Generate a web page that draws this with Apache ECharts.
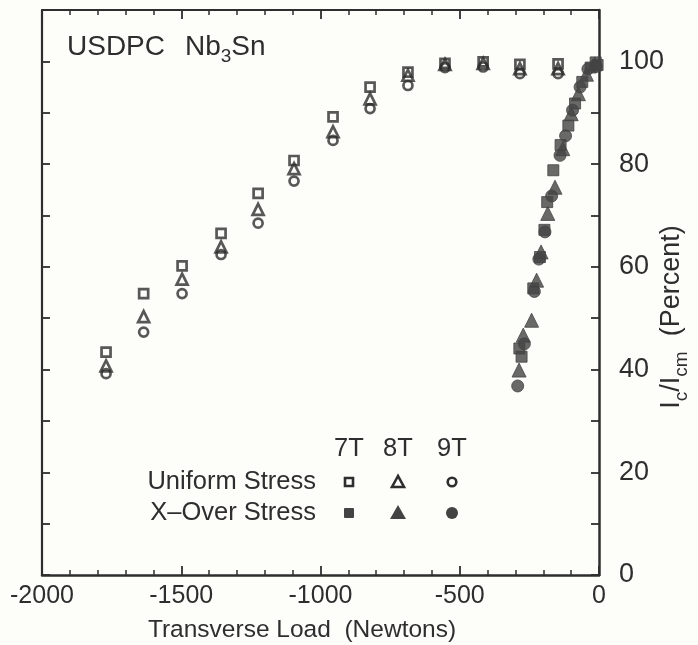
<!DOCTYPE html>
<html>
<head>
<meta charset="utf-8">
<script src="https://cdn.jsdelivr.net/npm/echarts@6/dist/echarts.min.js"></script>
<style>
html,body{margin:0;padding:0;background:#fdfdfa;overflow:hidden;}
#chart{width:698px;height:645px;}
</style>
</head>
<body>
<div id="chart"></div>
<script>
// ---- data ----
const xTicks = [-2000, -1500, -1000, -500, 0];
const yTickLabels = [0, 20, 40, 60, 80, 100];

const uniformLoad = [-1770, -1635, -1497, -1357, -1224, -1095, -955, -822, -686, -553, -416, -284, -147];
const uniform7T = [43.4, 54.8, 60.2, 66.5, 74.3, 80.7, 89.2, 95.0, 97.9, 99.6, 99.9, 99.4, 99.5];
const uniform8T = [40.7, 50.3, 57.6, 63.9, 71.2, 79.1, 86.3, 92.7, 97.3, 99.4, 99.6, 98.6, 98.6];
const uniform9T = [39.2, 47.3, 54.8, 62.4, 68.5, 76.7, 84.6, 90.8, 95.3, 98.8, 98.9, 97.6, 97.6];

const xover7TLoad = [-286, -278, -236, -212, -196, -186, -164, -138, -110, -86, -60, -30, -12, -5];
const xover7T     = [44.1, 42.5, 55.8, 61.9, 67.2, 72.6, 78.8, 83.7, 87.5, 91.8, 96.0, 98.8, 99.8, 99.3];
const xover8TLoad = [-287, -272, -242, -224, -208, -184, -158, -130, -100, -74, -45, -15];
const xover8T     = [39.9, 46.7, 49.6, 57.4, 62.9, 70.4, 75.5, 83.0, 89.8, 93.7, 97.5, 99.5];
const xover9TLoad = [-292, -268, -232, -216, -194, -170, -140, -120, -95, -68, -40, -10];
const xover9T     = [36.8, 45.0, 55.2, 61.5, 66.8, 73.8, 81.7, 85.5, 90.5, 95.0, 98.5, 99.0];

const legendRows = ['Uniform Stress', 'X\u2013Over Stress'];
const legendCols = ['7T', '8T', '9T'];

// ---- styling ----
const INK = '#2e2e2e';
const FILL = '#434343';
const FONT = "'Liberation Sans', Arial, Helvetica, sans-serif";

function pairs(xs, ys) { return xs.map((x, i) => [x, ys[i]]); }

function openSeries(name, sym, size, xs, ys) {
  return {
    name, type: 'scatter', xAxisIndex: 0, yAxisIndex: 0,
    symbol: sym, symbolSize: size, data: pairs(xs, ys),
    itemStyle: { color: 'rgba(0,0,0,0)', borderColor: INK, borderWidth: 2.7 },
    emphasis: { disabled: true }, z: 3
  };
}
function filledSeries(name, sym, size, xs, ys) {
  return {
    name, type: 'scatter', xAxisIndex: 0, yAxisIndex: 0,
    symbol: sym, symbolSize: size, data: pairs(xs, ys),
    itemStyle: { color: FILL, borderColor: FILL, borderWidth: 1 },
    emphasis: { disabled: true }, z: 4
  };
}

const axisLine = { show: true, onZero: false, lineStyle: { color: INK, width: 2.5 } };

// legend graphics
const legX = [349, 398, 452];
const legY = [482, 513];
const LFS = 25.5;
const legendGraphics = [];
legendCols.forEach((c, i) => {
  legendGraphics.push({ type: 'text', x: legX[i], y: 449,
    style: { text: c, font: LFS + 'px ' + FONT, fill: INK, align: 'center', verticalAlign: 'middle' } });
});
legendRows.forEach((r, j) => {
  legendGraphics.push({ type: 'text', x: 316, y: legY[j],
    style: { text: r, font: LFS + 'px ' + FONT, fill: INK, align: 'right', verticalAlign: 'middle' } });
});
legendGraphics.push({ type: 'rect', shape: { x: legX[0] - 4, y: legY[0] - 4, width: 8, height: 8 },
  style: { fill: 'none', stroke: INK, lineWidth: 2.6 } });
legendGraphics.push({ type: 'polygon', shape: { points: [[legX[1], legY[0] - 6], [legX[1] - 6, legY[0] + 5], [legX[1] + 6, legY[0] + 5]] },
  style: { fill: 'none', stroke: INK, lineWidth: 2.6 } });
legendGraphics.push({ type: 'circle', shape: { cx: legX[2], cy: legY[0], r: 4.3 },
  style: { fill: 'none', stroke: INK, lineWidth: 2.6 } });
legendGraphics.push({ type: 'rect', shape: { x: legX[0] - 5, y: legY[1] - 5, width: 10, height: 10, r: 1 },
  style: { fill: FILL } });
legendGraphics.push({ type: 'polygon', shape: { points: [[legX[1], legY[1] - 8], [legX[1] - 8, legY[1] + 6], [legX[1] + 8, legY[1] + 6]] },
  style: { fill: FILL } });
legendGraphics.push({ type: 'circle', shape: { cx: legX[2], cy: legY[1], r: 6 },
  style: { fill: FILL } });

const chart = echarts.init(document.getElementById('chart'), null, { renderer: 'canvas', width: 698, height: 645 });
chart.setOption({
  backgroundColor: '#fdfdfa',
  animation: false,
  textStyle: { fontFamily: FONT },
  grid: { left: 42, right: 99, top: 10, bottom: 70, containLabel: false },
  xAxis: [
    {
      type: 'value', position: 'bottom', min: -2000, max: 0, interval: 500,
      axisLine: axisLine,
      axisTick: { show: true, inside: true, length: 9, lineStyle: { color: INK, width: 1.8 } },
      minorTick: { show: true, splitNumber: 5, length: 5, lineStyle: { color: INK, width: 1.5 } },
      axisLabel: { show: true, margin: 9, fontSize: 25, color: INK, fontFamily: FONT,
        formatter: v => xTicks.indexOf(v) >= 0 ? String(v) : '' },
      splitLine: { show: false }
    },
    {
      type: 'value', position: 'top', min: -2000, max: 0, interval: 500,
      axisLine: { show: true, onZero: false, lineStyle: { color: INK, width: 2.2 } },
      axisTick: { show: true, inside: true, length: 9, lineStyle: { color: INK, width: 1.8 } },
      minorTick: { show: true, splitNumber: 5, length: 5, lineStyle: { color: INK, width: 1.5 } },
      axisLabel: { show: false }, splitLine: { show: false }
    }
  ],
  yAxis: [
    {
      type: 'value', position: 'right', min: 0, max: 110, interval: 10,
      axisLine: axisLine,
      axisTick: { show: true, inside: true, length: 8, lineStyle: { color: INK, width: 1.8 } },
      axisLabel: { show: true, margin: 20, fontSize: 27, color: INK, fontFamily: FONT,
        formatter: v => yTickLabels.indexOf(v) >= 0 ? String(v) : '' },
      splitLine: { show: false }
    },
    {
      type: 'value', position: 'left', min: 0, max: 110, interval: 10,
      axisLine: { show: true, onZero: false, lineStyle: { color: INK, width: 2.2 } },
      axisTick: { show: true, inside: true, length: 8, lineStyle: { color: INK, width: 1.8 } },
      axisLabel: { show: false }, splitLine: { show: false }
    }
  ],
  graphic: [
    { type: 'text', x: 67, y: 47,
      style: { text: '{a|USDPC}{g|}{a|Nb}{s|3}{a|Sn}',
        verticalAlign: 'middle', align: 'left',
        rich: {
          a: { fontSize: 28, fill: INK, fontFamily: FONT, lineHeight: 38, verticalAlign: 'middle' },
          g: { width: 20 },
          s: { fontSize: 19, fill: INK, fontFamily: FONT, lineHeight: 19, verticalAlign: 'bottom' }
        } } },
    { type: 'text', x: 302, y: 630,
      style: { text: 'Transverse Load  (Newtons)', font: '24.5px ' + FONT, fill: INK,
        align: 'center', verticalAlign: 'middle' } },
    { type: 'text', x: 672, y: 317, rotation: Math.PI / 2,
      style: { text: '{a|I}{s|c}{a|/I}{s|cm}{a|  (Percent)}',
        align: 'center', verticalAlign: 'middle',
        rich: {
          a: { fontSize: 27, fill: INK, fontFamily: FONT, lineHeight: 38, verticalAlign: 'middle' },
          s: { fontSize: 19, fill: INK, fontFamily: FONT, lineHeight: 19, verticalAlign: 'bottom' }
        } } }
  ].concat(legendGraphics),
  series: [
    openSeries('Uniform 7T', 'rect', 9, uniformLoad, uniform7T),
    openSeries('Uniform 8T', 'triangle', 11, uniformLoad, uniform8T),
    openSeries('Uniform 9T', 'circle', 9, uniformLoad, uniform9T),
    filledSeries('X-Over 7T', 'rect', 11, xover7TLoad, xover7T),
    filledSeries('X-Over 8T', 'triangle', 14, xover8TLoad, xover8T),
    filledSeries('X-Over 9T', 'circle', 12, xover9TLoad, xover9T)
  ]
});
</script>
</body>
</html>
